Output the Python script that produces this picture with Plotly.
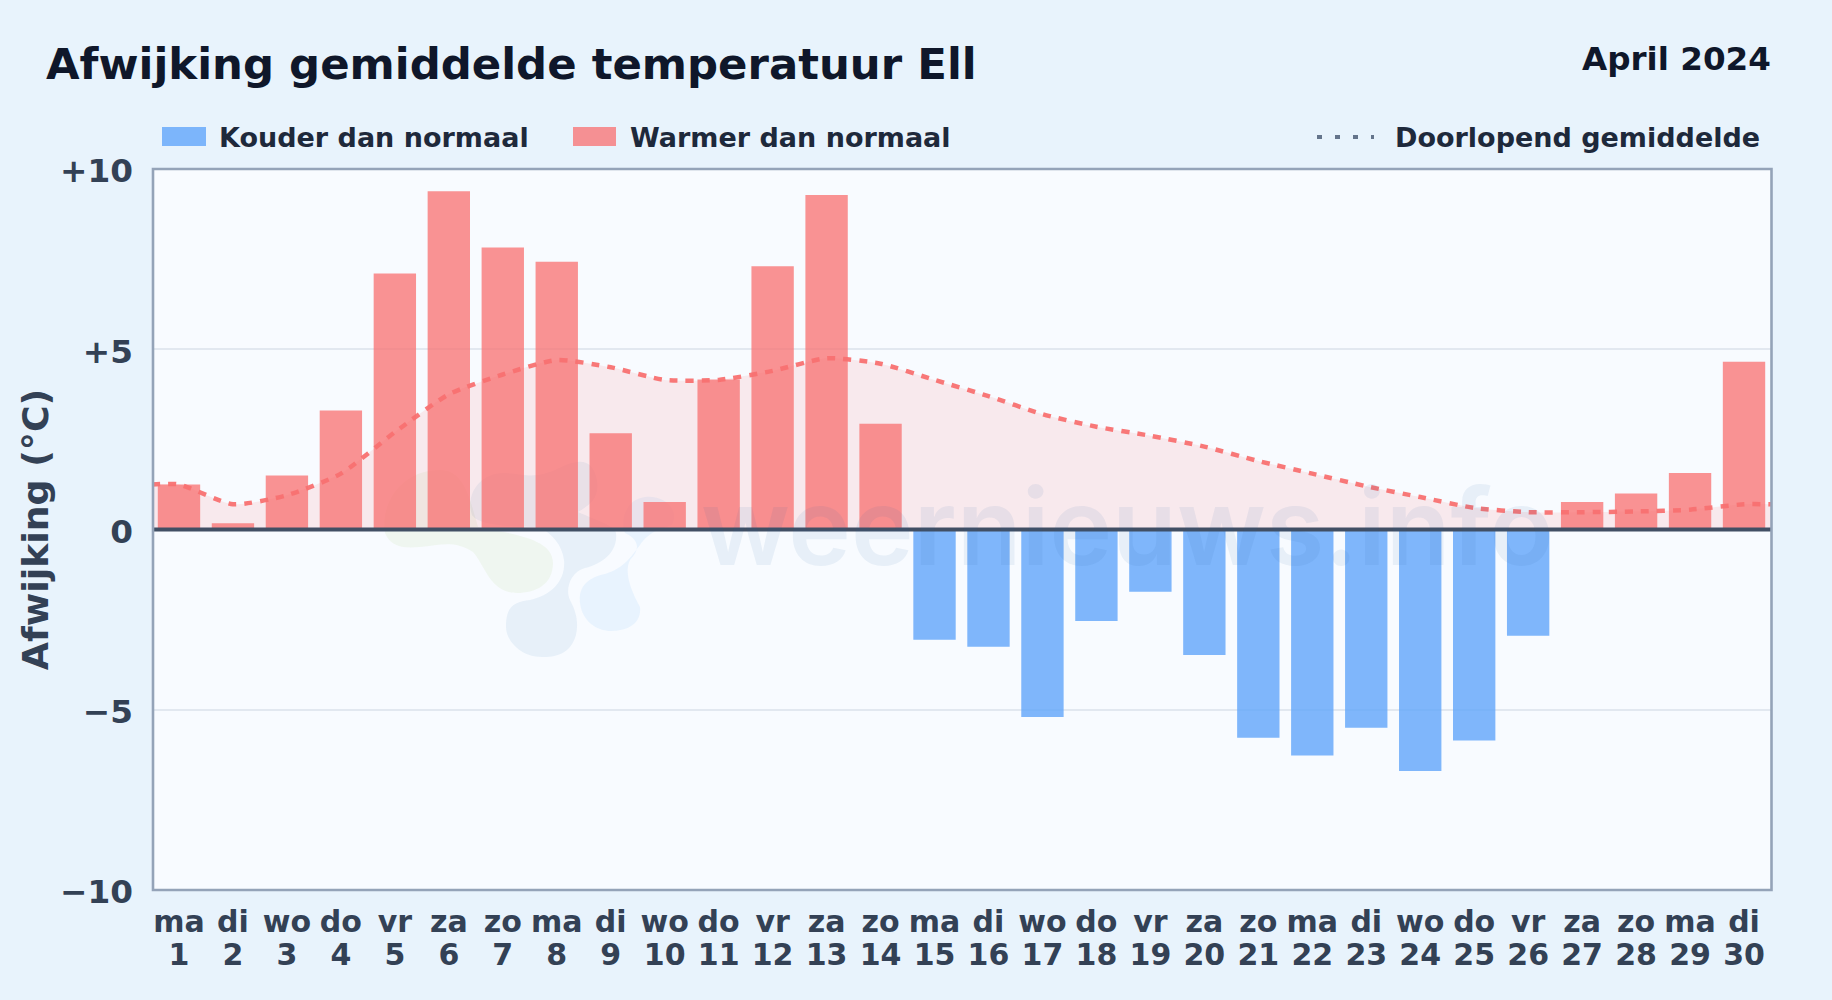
import plotly.graph_objects as go

dagen = list(range(1, 31))
weekdagen = ["ma","di","wo","do","vr","za","zo","ma","di","wo","do","vr","za","zo","ma",
             "di","wo","do","vr","za","zo","ma","di","wo","do","vr","za","zo","ma","di"]
afwijking = [1.25,0.17,1.5,3.3,7.1,9.38,7.82,7.43,2.67,0.76,4.16,7.3,9.28,2.93,-3.06,
             -3.25,-5.2,-2.54,-1.73,-3.48,-5.78,-6.27,-5.5,-6.7,-5.85,-2.95,0.76,1.0,1.57,4.65]
gemiddelde_x = [0.5] + dagen + [30.5]
gemiddelde = [1.25,1.25,0.7,0.95,1.55,2.7,3.75,4.3,4.7,4.5,4.15,4.15,4.4,4.75,4.6,4.15,3.7,
              3.2,2.85,2.6,2.3,1.9,1.55,1.2,0.9,0.6,0.48,0.48,0.5,0.55,0.7,0.7]
y_ticks = [-10,-5,0,5,10]
y_labels = ["−10","−5","0","+5","+10"]

FONT = "DejaVu Sans"
BG = "#e8f3fc"; PLOT = "#f8fbff"; DARK = "#0f172a"; TEXT = "#334155"; LEG = "#1e293b"
W, H = 1832, 1000
L, R, T, B = 152, 1771, 169, 890

def px(x): return (x - L) / (R - L)
def py(y): return (B - y) / (B - T)

warm = [v if v >= 0 else None for v in afwijking]
koud = [v if v < 0 else None for v in afwijking]

fig = go.Figure()
fig.add_bar(x=dagen, y=koud, name="Kouder dan normaal", width=0.785,
            marker=dict(color="rgba(96,165,250,0.8)", line_width=0), showlegend=False)
fig.add_bar(x=dagen, y=warm, name="Warmer dan normaal", width=0.785,
            marker=dict(color="rgba(248,113,113,0.76)", line_width=0), showlegend=False)
fig.add_scatter(x=gemiddelde_x, y=gemiddelde, mode="lines", name="Doorlopend gemiddelde",
                line=dict(color="rgba(248,113,113,0.95)", width=4.5, dash="8px,8px", shape="spline", smoothing=0.6),
                fill="tozeroy", fillcolor="rgba(248,113,113,0.13)", showlegend=False)

def blob(d, color):
    # watermark logo, path given in page pixels
    out = []
    for t in d.split():
        if t.isalpha():
            out.append(t)
        else:
            a, b = t.split(",")
            out.append(f"{px(float(a)):.5f},{py(float(b)):.5f}")
    return dict(type="path", path=" ".join(out), xref="paper", yref="paper", layer="below",
                fillcolor=color, line_width=0)

shapes = [
    blob("M 385,533 C 380,505 400,470 440,470 C 465,470 470,500 478,527 C 520,535 553,540 553,563 "
         "C 553,585 535,593 517,593 C 490,593 485,565 473,552 C 455,540 440,545 420,547 C 400,549 390,545 385,533 Z",
         "rgba(150,205,90,0.09)"),
    blob("M 506,627 C 506,605 515,602 530,600 C 552,595 566,580 564,560 C 562,545 553,535 540,527 "
         "C 520,527 480,527 472,515 C 465,495 480,473 503,473 C 525,473 530,480 555,470 C 575,460 592,455 597,480 "
         "C 600,498 590,505 578,512 C 595,520 615,525 616,533 C 618,550 605,563 585,568 C 570,572 565,590 570,600 "
         "C 578,615 578,625 576,635 C 570,655 555,657 542,657 C 520,657 506,640 506,627 Z",
         "rgba(40,110,175,0.08)"),
    blob("M 580,603 C 578,585 590,577 605,574 C 625,568 632,555 640,545 C 650,530 665,528 672,525 "
         "C 680,510 665,495 645,497 C 625,500 620,520 625,533 C 640,540 640,550 630,560 C 625,570 628,585 640,607 "
         "C 642,625 625,631 612,631 C 595,631 582,620 580,603 Z",
         "rgba(80,170,240,0.09)"),
    # legend keys
    dict(type="rect", xref="paper", yref="paper", x0=px(162), x1=px(206), y0=py(127), y1=py(146),
         fillcolor="rgba(96,165,250,0.8)", line_width=0),
    dict(type="rect", xref="paper", yref="paper", x0=px(573), x1=px(616), y0=py(127), y1=py(146),
         fillcolor="rgba(248,113,113,0.76)", line_width=0),
    dict(type="line", xref="paper", yref="paper", x0=px(1317), x1=px(1374), y0=py(137), y1=py(137),
         line=dict(color="#64748b", width=4, dash="5px,13px")),
    # zero line
    dict(type="line", xref="paper", yref="y", x0=px(153), x1=px(1771.5), y0=0, y1=0, layer="above",
         line=dict(color="#414f64", width=4)),
    # plot frame
    dict(type="rect", xref="paper", yref="paper", x0=px(153), x1=px(1771.5), y0=0, y1=1, layer="above",
         line=dict(color="#94a3b8", width=2.6)),
]

def label(x, y, text, size, color, anchor="left", weight=700, family=FONT):
    return dict(xref="paper", yref="paper", x=px(x), y=py(y), text=text, showarrow=False,
                xanchor=anchor, yanchor="middle",
                font=dict(family=family, size=size, color=color, weight=weight))

annotations = [
    label(1773, 59, "April 2024", 32.6, DARK, "right"),
    label(217, 137, "Kouder dan normaal", 27, LEG),
    label(628, 137, "Warmer dan normaal", 27, LEG),
    label(1393, 137, "Doorlopend gemiddelde", 27, LEG),
    label(1127, 526, "weernieuws.info", 106, "rgba(40,100,170,0.08)", "center", weight=600, family="Inter"),
]

X_LABEL = '<span style="font-size:30px">{}</span>'

fig.update_layout(
    width=W, height=H, autosize=False,
    margin=dict(l=L, r=W - R, t=T, b=H - B, pad=0),
    paper_bgcolor=BG, plot_bgcolor=PLOT, barmode="overlay", bargap=0.2,
    font=dict(family=FONT, color=TEXT),
    title=dict(text="Afwijking gemiddelde temperatuur Ell", x=46 / W, xanchor="left", xref="container",
               y=1 - 64 / H, yanchor="middle", yref="container",
               font=dict(family=FONT, size=43.4, color=DARK, weight=700)),
    shapes=shapes, annotations=annotations,
    xaxis=dict(range=[0.5, 30.5], tickmode="array", tickvals=dagen,
               ticktext=[X_LABEL.format(w) + "<br>" + X_LABEL.format(d) for w, d in zip(weekdagen, dagen)],
               tickfont=dict(family=FONT, size=25.5, color=TEXT, weight=700), tickangle=0,
               showgrid=False, zeroline=False, ticks="", showline=False, ticklabelstandoff=15),
    yaxis=dict(range=[-10, 10], tickmode="array", tickvals=y_ticks, ticktext=y_labels,
               tickfont=dict(family=FONT, size=32.7, color=TEXT, weight=700),
               ticklabelstandoff=18, ticklabelshift=2,
               showgrid=True, gridcolor="#e2e8f0", gridwidth=2, zeroline=False, ticks="",
               showline=False,
               title=dict(text="Afwijking (°C)", standoff=0,
                          font=dict(family=FONT, size=36.3, color=TEXT, weight=700))),
)

fig.write_html("out.html", config=dict(displayModeBar=False), post_script="document.body.style.margin='0';")
